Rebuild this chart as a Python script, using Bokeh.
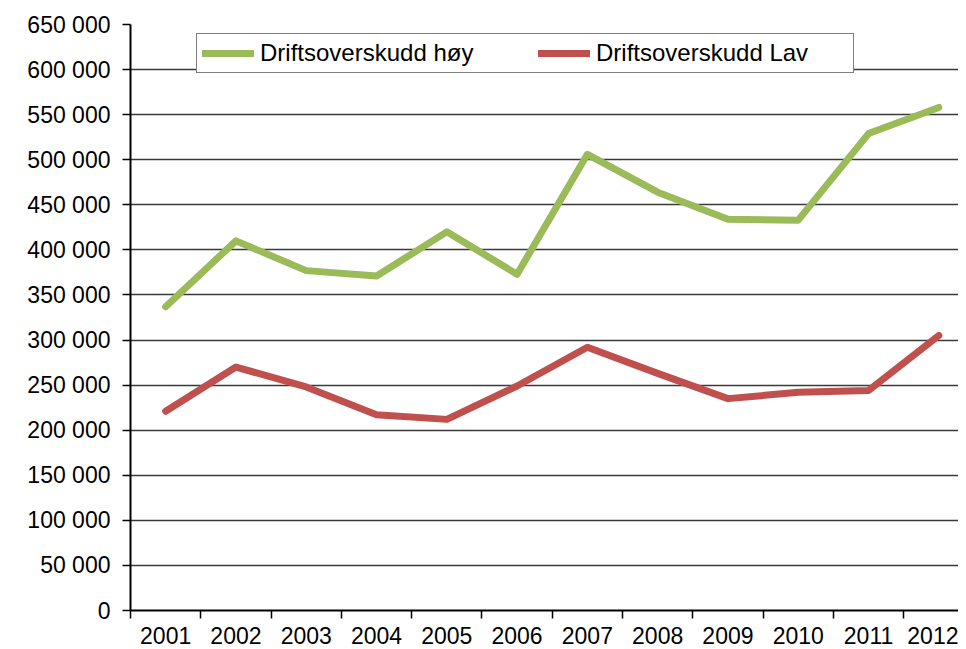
from bokeh.plotting import figure
from bokeh.models import Range1d, FixedTicker, Legend, LegendItem, ColumnDataSource
from bokeh.embed import file_html
from bokeh.resources import INLINE

# ---- data ----
years = ["2001", "2002", "2003", "2004", "2005", "2006",
         "2007", "2008", "2009", "2010", "2011", "2012"]
drift_hoy = [337000, 410000, 377000, 371000, 420000, 373000,
             506000, 464000, 434000, 433000, 529000, 558000]
drift_lav = [221000, 270000, 248000, 217000, 212000, 249000,
             292000, 263000, 235000, 242000, 244000, 305000]
y_ticks = [0, 50000, 100000, 150000, 200000, 250000, 300000,
           350000, 400000, 450000, 500000, 550000, 600000, 650000]
y_tick_labels = ["0", "50 000", "100 000", "150 000", "200 000", "250 000", "300 000",
                 "350 000", "400 000", "450 000", "500 000", "550 000", "600 000", "650 000"]
series_names = ["Driftsoverskudd høy", "Driftsoverskudd Lav"]
series_colors = ["#9BBB59", "#C0504D"]

x_centers = [i + 0.5 for i in range(len(years))]
x_bounds = [i for i in range(len(years) + 1)]

FONT = "Liberation Sans"
FS = "23px"

p = figure(width=958, height=649, output_backend="svg", toolbar_location=None,
           x_range=Range1d(0, 11.78), y_range=Range1d(0, 650000),
           min_border_left=130, min_border_right=0, min_border_top=24,
           min_border_bottom=39)
p.outline_line_color = None
p.background_fill_color = "white"
p.border_fill_color = "white"

# x axis: labels at category centres, tick marks at category boundaries
xa = p.xaxis[0]
xa.ticker = FixedTicker(ticks=x_centers, minor_ticks=x_bounds)
xa.major_label_overrides = {x: y for x, y in zip(x_centers, years)}
xa.major_tick_out = 0
xa.major_tick_in = 0
xa.minor_tick_out = 8
xa.minor_tick_in = 0
xa.minor_tick_line_color = "black"
xa.minor_tick_line_width = 1.5
xa.axis_line_color = "black"
xa.axis_line_width = 2
xa.major_label_standoff = 8
xa.major_label_text_font = FONT
xa.major_label_text_font_size = FS
xa.major_label_text_color = "black"

ya = p.yaxis[0]
ya.ticker = FixedTicker(ticks=y_ticks)
ya.major_label_overrides = {t: l for t, l in zip(y_ticks, y_tick_labels)}
ya.major_tick_out = 8
ya.major_tick_in = 0
ya.major_tick_line_color = "black"
ya.major_tick_line_width = 1.5
ya.minor_tick_out = 0
ya.minor_tick_in = 0
ya.axis_line_color = "black"
ya.axis_line_width = 2
ya.major_label_standoff = 12
ya.major_label_text_font = FONT
ya.major_label_text_font_size = FS
ya.major_label_text_color = "black"

p.xgrid.grid_line_color = None
p.ygrid.ticker = FixedTicker(ticks=y_ticks)
p.ygrid.grid_line_color = "#3a3a3a"
p.ygrid.grid_line_width = 1.5

src = ColumnDataSource(dict(x=x_centers, hoy=drift_hoy, lav=drift_lav))
r1 = p.line("x", "hoy", source=src, line_color=series_colors[0], line_width=7,
            line_cap="round", line_join="round")
r2 = p.line("x", "lav", source=src, line_color=series_colors[1], line_width=7,
            line_cap="round", line_join="round")

legend = Legend(items=[LegendItem(label=series_names[0], renderers=[r1]),
                       LegendItem(label=series_names[1], renderers=[r2])],
                orientation="horizontal", location=(66, 537))
legend.label_text_font = FONT
legend.label_text_font_size = "24px"
legend.label_text_color = "black"
legend.label_width = 252
legend.glyph_width = 52
legend.glyph_height = 22
legend.label_standoff = 6
legend.spacing = 26
legend.padding = 5
legend.margin = 0
legend.border_line_color = "black"
legend.border_line_width = 1.5
legend.background_fill_color = "white"
legend.background_fill_alpha = 1
p.add_layout(legend)

open("out.html", "w").write(file_html(p, INLINE))
